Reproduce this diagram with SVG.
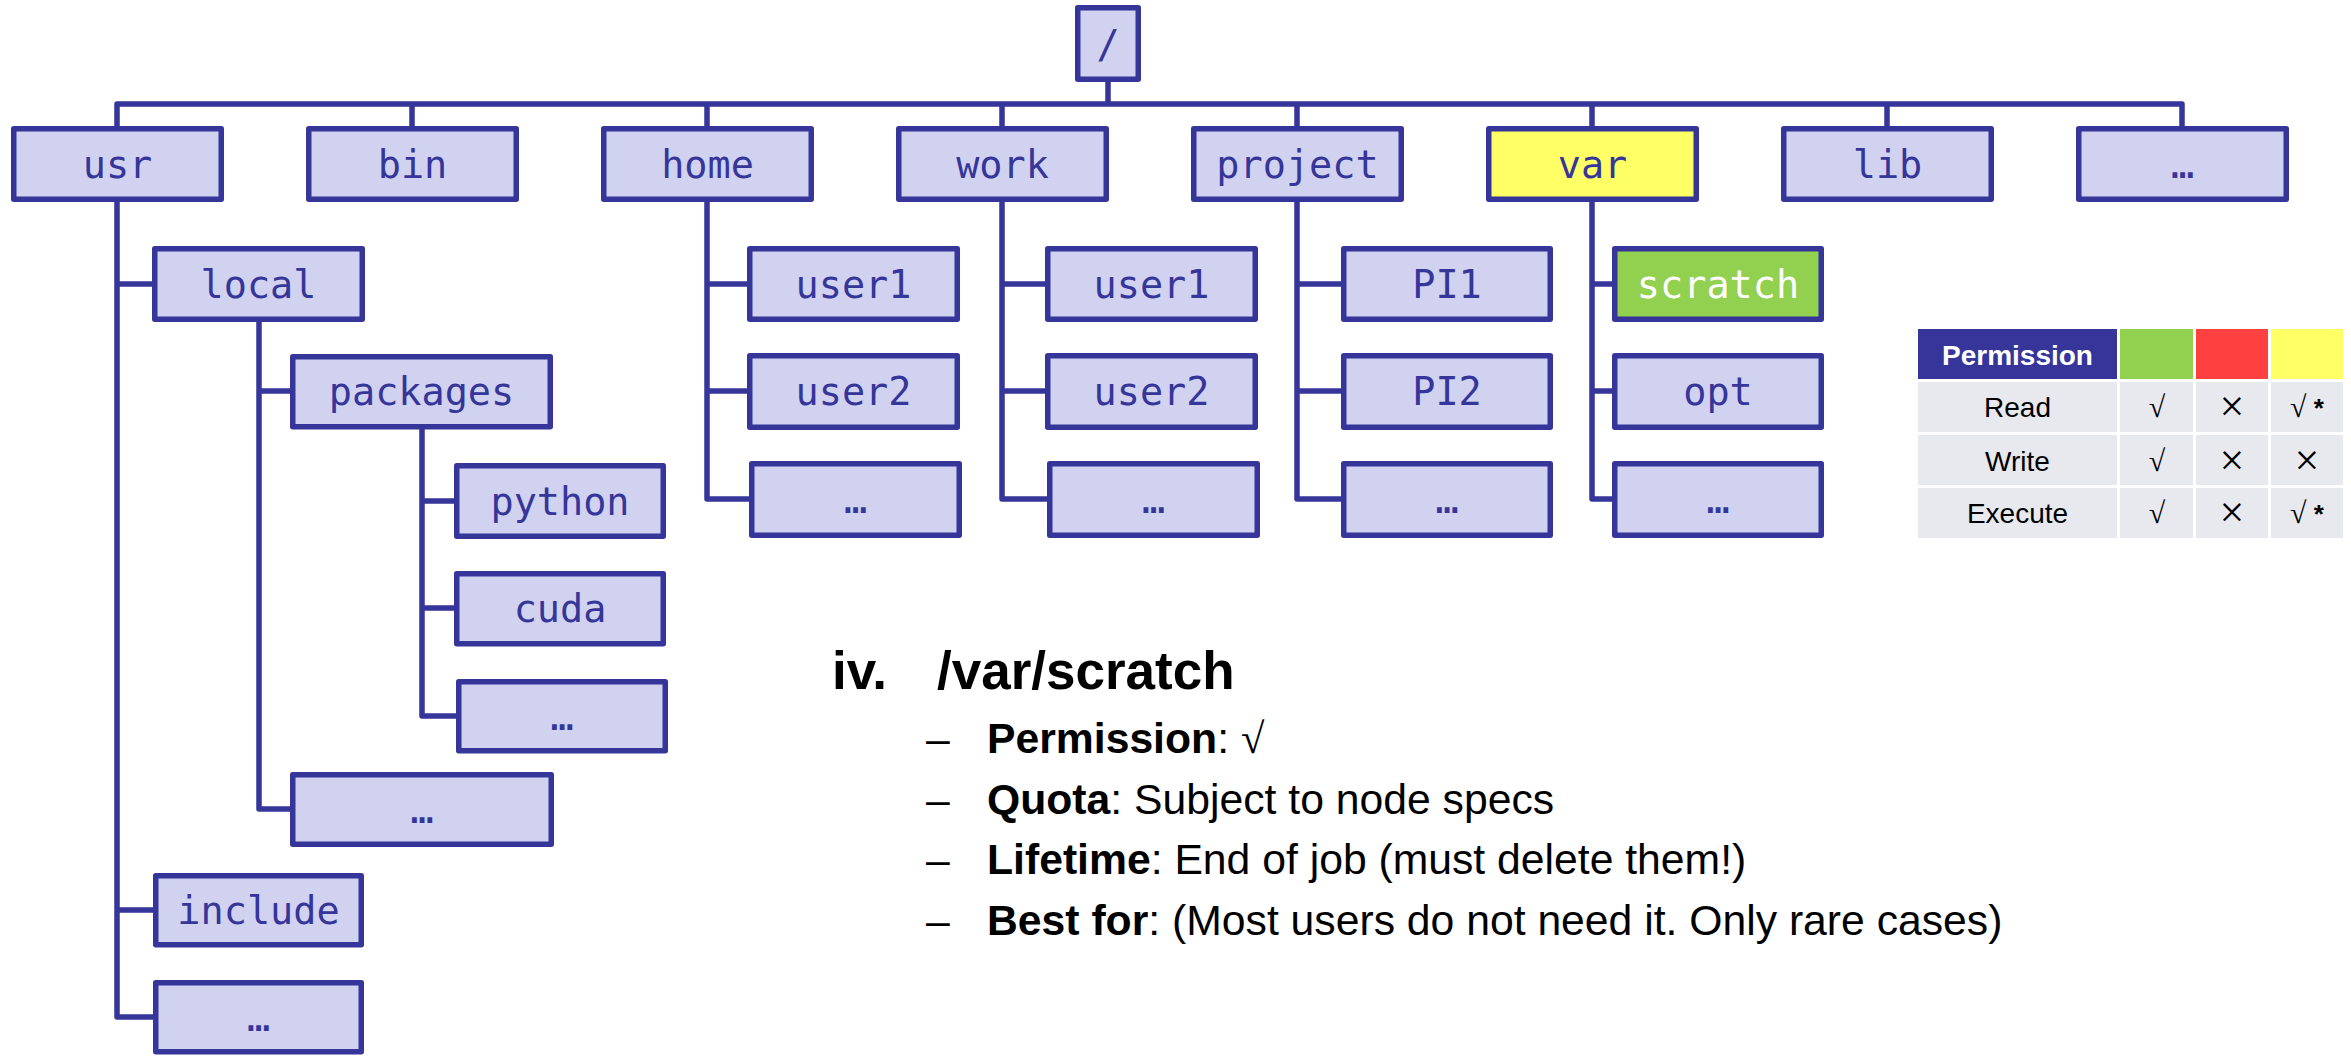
<svg xmlns="http://www.w3.org/2000/svg" width="2351" height="1056" viewBox="0 0 2351 1056">
<style>
.box{fill:#D1D2EF;stroke:#35359A;stroke-width:5.5;stroke-linejoin:round}
.var{fill:#FFFF66}
.green{fill:#92D050}
.lbl{font-family:"DejaVu Sans Mono",monospace;font-size:38.5px;fill:#35359A;text-anchor:middle}
.wh{fill:#FFFFFF}
.con{fill:none;stroke:#35359A;stroke-width:5.5;stroke-linejoin:round}
.tb{font-family:"Liberation Sans",Arial,sans-serif;font-size:28px;fill:#000;text-anchor:middle}
.sym{font-family:"Liberation Serif","Times New Roman",serif;font-size:30px;fill:#000;text-anchor:middle}
.x{font-family:"Liberation Serif","Times New Roman",serif;font-size:44px;fill:#000;text-anchor:middle}
.txt{font-family:"Liberation Sans",Arial,sans-serif;font-size:42.7px;fill:#000}
.b{font-weight:bold}
</style>
<g id="connectors">
<path class="con" d="M1108,82 V104"/>
<path class="con" d="M117,126 V104 H2182 V126"/>
<path class="con" d="M412,104 V126 M707,104 V126 M1002,104 V126 M1297,104 V126 M1592,104 V126 M1887,104 V126"/>
<path class="con" d="M117,202 V1017 H155 M117,284 H154 M117,910 H155"/>
<path class="con" d="M259,322 V809 H292 M259,391 H292"/>
<path class="con" d="M422,429 V716 H458 M422,501 H456 M422,608 H456"/>
<path class="con" d="M707,202 V499 H751 M707,284 H749 M707,391 H749"/>
<path class="con" d="M1002,202 V499 H1049 M1002,284 H1047 M1002,391 H1047"/>
<path class="con" d="M1297,202 V499 H1343 M1297,284 H1343 M1297,391 H1343"/>
<path class="con" d="M1592,202 V499 H1614 M1592,284 H1614 M1592,391 H1614"/>
</g>
<g id="node-root"><rect class="box" x="1077.75" y="7.75" width="60.5" height="71.5"/><text class="lbl" x="1108" y="58">/</text></g>
<g id="node-usr"><rect class="box" x="13.75" y="128.75" width="207.5" height="70.5"/><text class="lbl" x="117.5" y="178">usr</text></g>
<g id="node-bin"><rect class="box" x="308.75" y="128.75" width="207.5" height="70.5"/><text class="lbl" x="412.5" y="178">bin</text></g>
<g id="node-home"><rect class="box" x="603.75" y="128.75" width="207.5" height="70.5"/><text class="lbl" x="707.5" y="178">home</text></g>
<g id="node-work"><rect class="box" x="898.75" y="128.75" width="207.5" height="70.5"/><text class="lbl" x="1002.5" y="178">work</text></g>
<g id="node-project"><rect class="box" x="1193.75" y="128.75" width="207.5" height="70.5"/><text class="lbl" x="1297.5" y="178">project</text></g>
<g id="node-var"><rect class="box var" x="1488.75" y="128.75" width="207.5" height="70.5"/><text class="lbl" x="1592.5" y="178">var</text></g>
<g id="node-lib"><rect class="box" x="1783.75" y="128.75" width="207.5" height="70.5"/><text class="lbl" x="1887.5" y="178">lib</text></g>
<g id="node-more-top"><rect class="box" x="2078.75" y="128.75" width="207.5" height="70.5"/><text class="lbl" x="2182.5" y="178">…</text></g>

<g id="node-local"><rect class="box" x="154.75" y="248.75" width="207.5" height="70.5"/><text class="lbl" x="258.5" y="298">local</text></g>
<g id="node-packages"><rect class="box" x="292.75" y="356.75" width="257.5" height="70"/><text class="lbl" x="421.5" y="405">packages</text></g>
<g id="node-python"><rect class="box" x="456.75" y="465.75" width="206.5" height="70.5"/><text class="lbl" x="560" y="515">python</text></g>
<g id="node-cuda"><rect class="box" x="456.75" y="573.75" width="206.5" height="70"/><text class="lbl" x="560" y="622">cuda</text></g>
<g id="node-pkg-more"><rect class="box" x="458.75" y="681.75" width="206.5" height="69"/><text class="lbl" x="562" y="730">…</text></g>
<g id="node-local-more"><rect class="box" x="292.75" y="774.75" width="258.5" height="69.5"/><text class="lbl" x="422" y="823">…</text></g>
<g id="node-include"><rect class="box" x="155.75" y="875.75" width="205.5" height="69"/><text class="lbl" x="258.5" y="924">include</text></g>
<g id="node-usr-more"><rect class="box" x="155.75" y="982.75" width="205.5" height="69"/><text class="lbl" x="258.5" y="1031">…</text></g>

<g id="node-home-user1"><rect class="box" x="749.75" y="248.75" width="207.5" height="70.5"/><text class="lbl" x="853.5" y="298">user1</text></g>
<g id="node-home-user2"><rect class="box" x="749.75" y="355.75" width="207.5" height="71.5"/><text class="lbl" x="853.5" y="405">user2</text></g>
<g id="node-home-more"><rect class="box" x="751.75" y="463.75" width="207.5" height="71.5"/><text class="lbl" x="855.5" y="513">…</text></g>

<g id="node-work-user1"><rect class="box" x="1047.75" y="248.75" width="207.5" height="70.5"/><text class="lbl" x="1151.5" y="298">user1</text></g>
<g id="node-work-user2"><rect class="box" x="1047.75" y="355.75" width="207.5" height="71.5"/><text class="lbl" x="1151.5" y="405">user2</text></g>
<g id="node-work-more"><rect class="box" x="1049.75" y="463.75" width="207.5" height="71.5"/><text class="lbl" x="1153.5" y="513">…</text></g>

<g id="node-pi1"><rect class="box" x="1343.75" y="248.75" width="206.5" height="70.5"/><text class="lbl" x="1447" y="298">PI1</text></g>
<g id="node-pi2"><rect class="box" x="1343.75" y="355.75" width="206.5" height="71.5"/><text class="lbl" x="1447" y="405">PI2</text></g>
<g id="node-project-more"><rect class="box" x="1343.75" y="463.75" width="206.5" height="71.5"/><text class="lbl" x="1447" y="513">…</text></g>

<g id="node-scratch"><rect class="box green" x="1614.75" y="248.75" width="206.5" height="70.5"/><text class="lbl wh" x="1718" y="298">scratch</text></g>
<g id="node-opt"><rect class="box" x="1614.75" y="355.75" width="206.5" height="71.5"/><text class="lbl" x="1718" y="405">opt</text></g>
<g id="node-var-more"><rect class="box" x="1614.75" y="463.75" width="206.5" height="71.5"/><text class="lbl" x="1718" y="513">…</text></g>

<g id="permission-table">
<rect x="1918" y="329" width="199" height="50" fill="#35359A"/>
<rect x="2120" y="329" width="73" height="50" fill="#92D050"/>
<rect x="2196" y="329" width="72" height="50" fill="#FF4040"/>
<rect x="2271" y="329" width="72" height="50" fill="#FFFF66"/>
<g fill="#E8E9EF">
<rect x="1918" y="382" width="199" height="50"/><rect x="2120" y="382" width="73" height="50"/><rect x="2196" y="382" width="72" height="50"/><rect x="2271" y="382" width="72" height="50"/>
<rect x="1918" y="435" width="199" height="50"/><rect x="2120" y="435" width="73" height="50"/><rect x="2196" y="435" width="72" height="50"/><rect x="2271" y="435" width="72" height="50"/>
<rect x="1918" y="488" width="199" height="50"/><rect x="2120" y="488" width="73" height="50"/><rect x="2196" y="488" width="72" height="50"/><rect x="2271" y="488" width="72" height="50"/>
</g>
<text class="tb b" x="2017.5" y="365" style="fill:#FFFFFF">Permission</text>
<text class="tb" x="2017.5" y="417">Read</text>
<text class="tb" x="2017.5" y="471">Write</text>
<text class="tb" x="2017.5" y="523">Execute</text>
<text class="sym" x="2157" y="417">√</text>
<text class="sym" x="2157" y="471">√</text>
<text class="sym" x="2157" y="523">√</text>
<text class="x" x="2232" y="421">×</text>
<text class="x" x="2232" y="475">×</text>
<text class="x" x="2232" y="527">×</text>
<text class="sym" x="2307" y="417">√<tspan style="font-family:'Liberation Sans',Arial,sans-serif;font-weight:bold;font-size:26px"> *</tspan></text>
<text class="x" x="2307" y="475">×</text>
<text class="sym" x="2307" y="523">√<tspan style="font-family:'Liberation Sans',Arial,sans-serif;font-weight:bold;font-size:26px"> *</tspan></text>
</g>

<g id="description">
<text class="txt b" x="832" y="689" style="font-size:53px">iv.</text>
<text class="txt b" x="937" y="689" style="font-size:53px">/var/scratch</text>
<text class="txt" x="926" y="753">–</text>
<text class="txt" x="987" y="753"><tspan class="b">Permission</tspan>: <tspan style="font-family:'Liberation Serif',serif">√</tspan></text>
<text class="txt" x="926" y="814">–</text>
<text class="txt" x="987" y="814"><tspan class="b">Quota</tspan>: Subject to node specs</text>
<text class="txt" x="926" y="874">–</text>
<text class="txt" x="987" y="874"><tspan class="b">Lifetime</tspan>: End of job (must delete them!)</text>
<text class="txt" x="926" y="935">–</text>
<text class="txt" x="987" y="935"><tspan class="b">Best for</tspan>: (Most users do not need it. Only rare cases)</text>
</g>
</svg>
